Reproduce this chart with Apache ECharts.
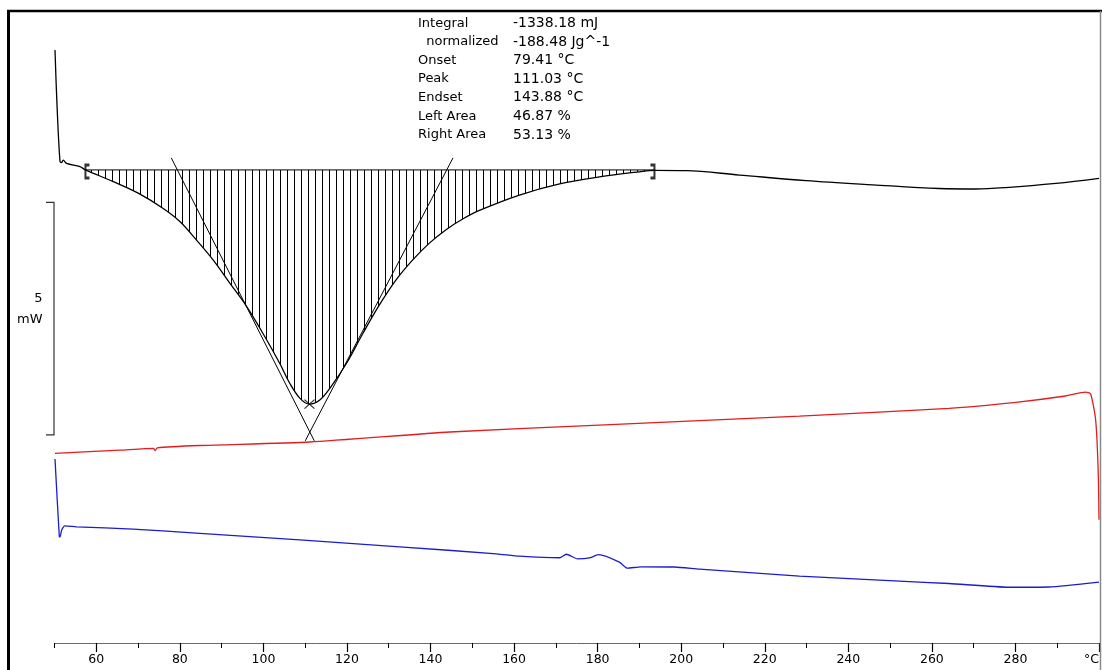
<!DOCTYPE html>
<html>
<head>
<meta charset="utf-8">
<script src="https://cdn.jsdelivr.net/npm/echarts@6/dist/echarts.min.js"></script>
<style>
  html, body { margin: 0; padding: 0; background: #ffffff; }
  #chart { width: 1102px; height: 670px; }
</style>
</head>
<body>
<div id="chart"></div>
<script>
// Temperature axis (°C)
const tempMin = 50;
const tempMax = 300;
const minorTicks = [50, 70, 90, 110, 130, 150, 170, 190, 210, 230, 250, 270, 290];
const majorTicks = [60, 80, 100, 120, 140, 160, 180, 200, 220, 240, 260, 280, 300];
const axisUnit = '°C';

// Heat-flow range shown (mW)
const heatMin = -10.18;
const heatMax = 3.42;

// DSC heat-flow trace [°C, mW]
const dscCurve = [
  [50.12, 2.58], [50.60, 1.40], [51.32, 0.18], [51.70, 0.16], [52.10, 0.21],
  [52.90, 0.14], [56.10, 0.07], [57.41, 0.00], [64.06, -0.25], [70.04, -0.50],
  [76.02, -0.83], [80.00, -1.11], [84.00, -1.51], [88.00, -1.94], [92.00, -2.44],
  [96.00, -2.94], [99.90, -3.52], [103.90, -4.16], [106.30, -4.59], [108.70, -4.91],
  [111.03, -5.04], [113.50, -4.95], [115.90, -4.70], [119.90, -4.16], [123.80, -3.52],
  [127.80, -2.90], [131.80, -2.36], [135.80, -1.93], [139.80, -1.57], [143.80, -1.28],
  [147.80, -1.05], [151.70, -0.87], [161.30, -0.54], [170.90, -0.30], [180.40, -0.15],
  [190.00, -0.04], [193.60, -0.01], [201.20, -0.015], [213.90, -0.11], [229.90, -0.23],
  [245.80, -0.32], [261.70, -0.40], [270.50, -0.41], [277.70, -0.38], [289.70, -0.29],
  [300.00, -0.18]
];

// Red trace [°C, mW-offset]
const redTrace = [
  [50.12, -6.10], [65.70, -6.03], [73.70, -5.99], [74.10, -6.04], [74.60, -5.98],
  [84.80, -5.93], [111.10, -5.855], [144.60, -5.64], [180.40, -5.49], [228.30, -5.30],
  [264.10, -5.13], [280.10, -5.00], [292.00, -4.865], [296.80, -4.78], [298.00, -4.82],
  [299.20, -5.38], [299.80, -6.46], [300.00, -7.53]
];

// Blue trace [°C, mW-offset]
const blueTrace = [
  [50.12, -6.22], [51.15, -7.89], [51.32, -7.90], [51.72, -7.75], [52.51, -7.66],
  [55.31, -7.68], [68.84, -7.73], [84.79, -7.82], [108.70, -7.96], [132.60, -8.11],
  [155.80, -8.26], [161.30, -8.31], [170.90, -8.345], [172.50, -8.27], [175.20, -8.37],
  [178.00, -8.35], [180.20, -8.28], [185.20, -8.44], [187.10, -8.57], [190.40, -8.54],
  [198.40, -8.545], [204.40, -8.59], [228.30, -8.74], [252.20, -8.85], [264.10, -8.90],
  [278.50, -8.98], [288.00, -8.975], [300.00, -8.87]
];

// Peak evaluation
const integrationStart = 57.41;
const integrationEnd = 193.60;
const integrationBaseline = 0;
const onsetT = 79.41;
const peakT = 111.03;
const endsetT = 143.88;
const peakHeat = -5.04;
const tangentCross = [111.12, -5.64];
const tangentTop = 0.26;
const tangentBottom = -5.83;

const resultLabels = ['Integral', '  normalized', 'Onset', 'Peak', 'Endset', 'Left Area', 'Right Area'];
const resultValues = ['-1338.18 mJ', '-188.48 Jg^-1',
  onsetT.toFixed(2) + ' °C', peakT.toFixed(2) + ' °C', endsetT.toFixed(2) + ' °C',
  '46.87 %', '53.13 %'];

// Scale bar
const scaleBarTop = -0.70;
const scaleBarSpan = 5;
const scaleBarLabel = ['5', 'mW'];

const FONT = 'DejaVu Sans';

// tangent through (t0, baseline) and the common intersection point
function tangent(t0) {
  const k = (tangentCross[0] - t0) / (tangentCross[1] - integrationBaseline);
  return [
    [t0 + k * (tangentTop - integrationBaseline), tangentTop],
    [t0 + k * (tangentBottom - integrationBaseline), tangentBottom]
  ];
}

const hatchData = dscCurve.filter(p => p[0] >= integrationStart && p[0] <= integrationEnd);
const hatchDecal = {
  symbol: 'rect', symbolSize: 1, color: '#000000',
  dashArrayX: [1, 6], dashArrayY: [1, 0], rotation: 0
};

const chart = echarts.init(document.getElementById('chart'), null, { renderer: 'canvas' });

const baseX = {
  type: 'value', min: tempMin, max: tempMax, interval: 10,
  gridIndex: 0, position: 'bottom', splitLine: { show: false }
};

const option = {
  animation: false,
  backgroundColor: '#ffffff',
  grid: { left: 54.5, right: 2, top: 11, bottom: 27, containLabel: false },
  xAxis: [
    Object.assign({}, baseX, {
      axisLine: { show: true, onZero: false, lineStyle: { color: '#6a6a6a', width: 1 } },
      axisTick: { show: true, length: 5, customValues: minorTicks, lineStyle: { color: '#000', width: 1 } },
      axisLabel: { show: false }
    }),
    Object.assign({}, baseX, {
      axisLine: { show: false, onZero: false },
      axisTick: { show: true, length: 9, customValues: majorTicks, lineStyle: { color: '#000', width: 1.2 } },
      axisLabel: {
        show: true, customValues: majorTicks, margin: 10,
        fontFamily: FONT, fontSize: 12.5, color: '#000',
        alignMaxLabel: 'right',
        formatter: v => (v === tempMax ? axisUnit : String(v))
      }
    })
  ],
  yAxis: {
    type: 'value', min: heatMin, max: heatMax, show: false,
    splitLine: { show: false }
  },
  series: [
    {
      name: 'area', type: 'line', data: hatchData, xAxisIndex: 0,
      smooth: 0.35, symbol: 'none', silent: true,
      lineStyle: { width: 0, decal: hatchDecal },
      itemStyle: { decal: hatchDecal },
      areaStyle: { color: 'rgba(0,0,0,0)', origin: integrationBaseline, opacity: 1 },
      z: 1
    },
    {
      name: 'DSC', type: 'line', data: dscCurve, xAxisIndex: 0,
      smooth: 0.35, symbol: 'none',
      lineStyle: { color: '#000', width: 1.3 }, z: 3
    },
    {
      name: 'baseline', type: 'line', xAxisIndex: 0, symbol: 'none',
      data: [[integrationStart, integrationBaseline], [integrationEnd, integrationBaseline]],
      lineStyle: { color: '#000', width: 1 }, z: 3
    },
    {
      name: 'onset tangent', type: 'line', xAxisIndex: 0, symbol: 'none',
      data: tangent(onsetT), lineStyle: { color: '#000', width: 1 }, z: 3
    },
    {
      name: 'endset tangent', type: 'line', xAxisIndex: 0, symbol: 'none',
      data: tangent(endsetT), lineStyle: { color: '#000', width: 1 }, z: 3
    },
    {
      name: 'peak', type: 'scatter', xAxisIndex: 0,
      data: [[peakT, peakHeat]],
      symbol: 'path://M0,0L10,10M10,0L0,10', symbolSize: [10, 9],
      itemStyle: { color: 'rgba(0,0,0,0)', borderColor: '#000', borderWidth: 1.2 }, z: 4
    },
    {
      name: 'limit start', type: 'scatter', xAxisIndex: 0,
      data: [[integrationStart, integrationBaseline]],
      symbol: 'path://M0,0L5,0L5,3L2,3L2,13L5,13L5,16L0,16Z', symbolSize: [5, 16],
      symbolOffset: [1.5, 1.5], itemStyle: { color: '#000' }, z: 4
    },
    {
      name: 'limit end', type: 'scatter', xAxisIndex: 0,
      data: [[integrationEnd, integrationBaseline]],
      symbol: 'path://M0,0L5,0L5,16L0,16L0,13L3,13L3,3L0,3Z', symbolSize: [5, 16],
      symbolOffset: [-1.5, 1.5], itemStyle: { color: '#000' }, z: 4
    },
    {
      name: 'red', type: 'line', data: redTrace, xAxisIndex: 0,
      smooth: 0.2, symbol: 'none',
      lineStyle: { color: '#e21d1d', width: 1.3 }, z: 2
    },
    {
      name: 'blue', type: 'line', data: blueTrace, xAxisIndex: 0,
      smooth: 0.2, symbol: 'none',
      lineStyle: { color: '#1c1ccf', width: 1.3 }, z: 2
    }
  ]
};

chart.setOption(option);

// frame, result table and the 5 mW scale bar
const px = v => chart.convertToPixel({ xAxisIndex: 0, yAxisIndex: 0 }, v);
const barTop = px([tempMin, scaleBarTop]);
const barBottom = px([tempMin, scaleBarTop - scaleBarSpan]);
const barX = barTop[0] - 0.5;
const barMidY = (barTop[1] + barBottom[1]) / 2;
const font13 = '13px "' + FONT + '"';
const graphics = [
  { type: 'line', shape: { x1: 8.5, y1: 10, x2: 8.5, y2: 670 }, style: { stroke: '#000', lineWidth: 3 }, z: 100 },
  { type: 'line', shape: { x1: 7, y1: 11, x2: 1102, y2: 11 }, style: { stroke: '#000', lineWidth: 2.5 }, z: 100 },
  { type: 'line', shape: { x1: 1100.5, y1: 11, x2: 1100.5, y2: 670 }, style: { stroke: '#8a8a8a', lineWidth: 1.5 }, z: 100 },
  { type: 'polyline', shape: { points: [[barX - 8, barTop[1]], [barX, barTop[1]], [barX, barBottom[1]], [barX - 8, barBottom[1]]] },
    style: { stroke: '#333', lineWidth: 1.2, fill: null }, z: 100 },
  { type: 'text', x: barX - 11.5, y: barMidY - 20, style: { text: scaleBarLabel[0], font: font13, fill: '#000', align: 'right', verticalAlign: 'middle' } },
  { type: 'text', x: barX - 11.5, y: barMidY + 1, style: { text: scaleBarLabel[1], font: font13, fill: '#000', align: 'right', verticalAlign: 'middle' } }
];
resultLabels.forEach((t, i) => {
  graphics.push({ type: 'text', x: 418, y: 23.3 + i * 18.6,
    style: { text: t, font: font13, fill: '#000', verticalAlign: 'middle' } });
  graphics.push({ type: 'text', x: 513, y: 23.3 + i * 18.6,
    style: { text: resultValues[i], font: '14px "' + FONT + '"', fill: '#000', verticalAlign: 'middle' } });
});
chart.setOption({ graphic: graphics });
</script>
</body>
</html>
